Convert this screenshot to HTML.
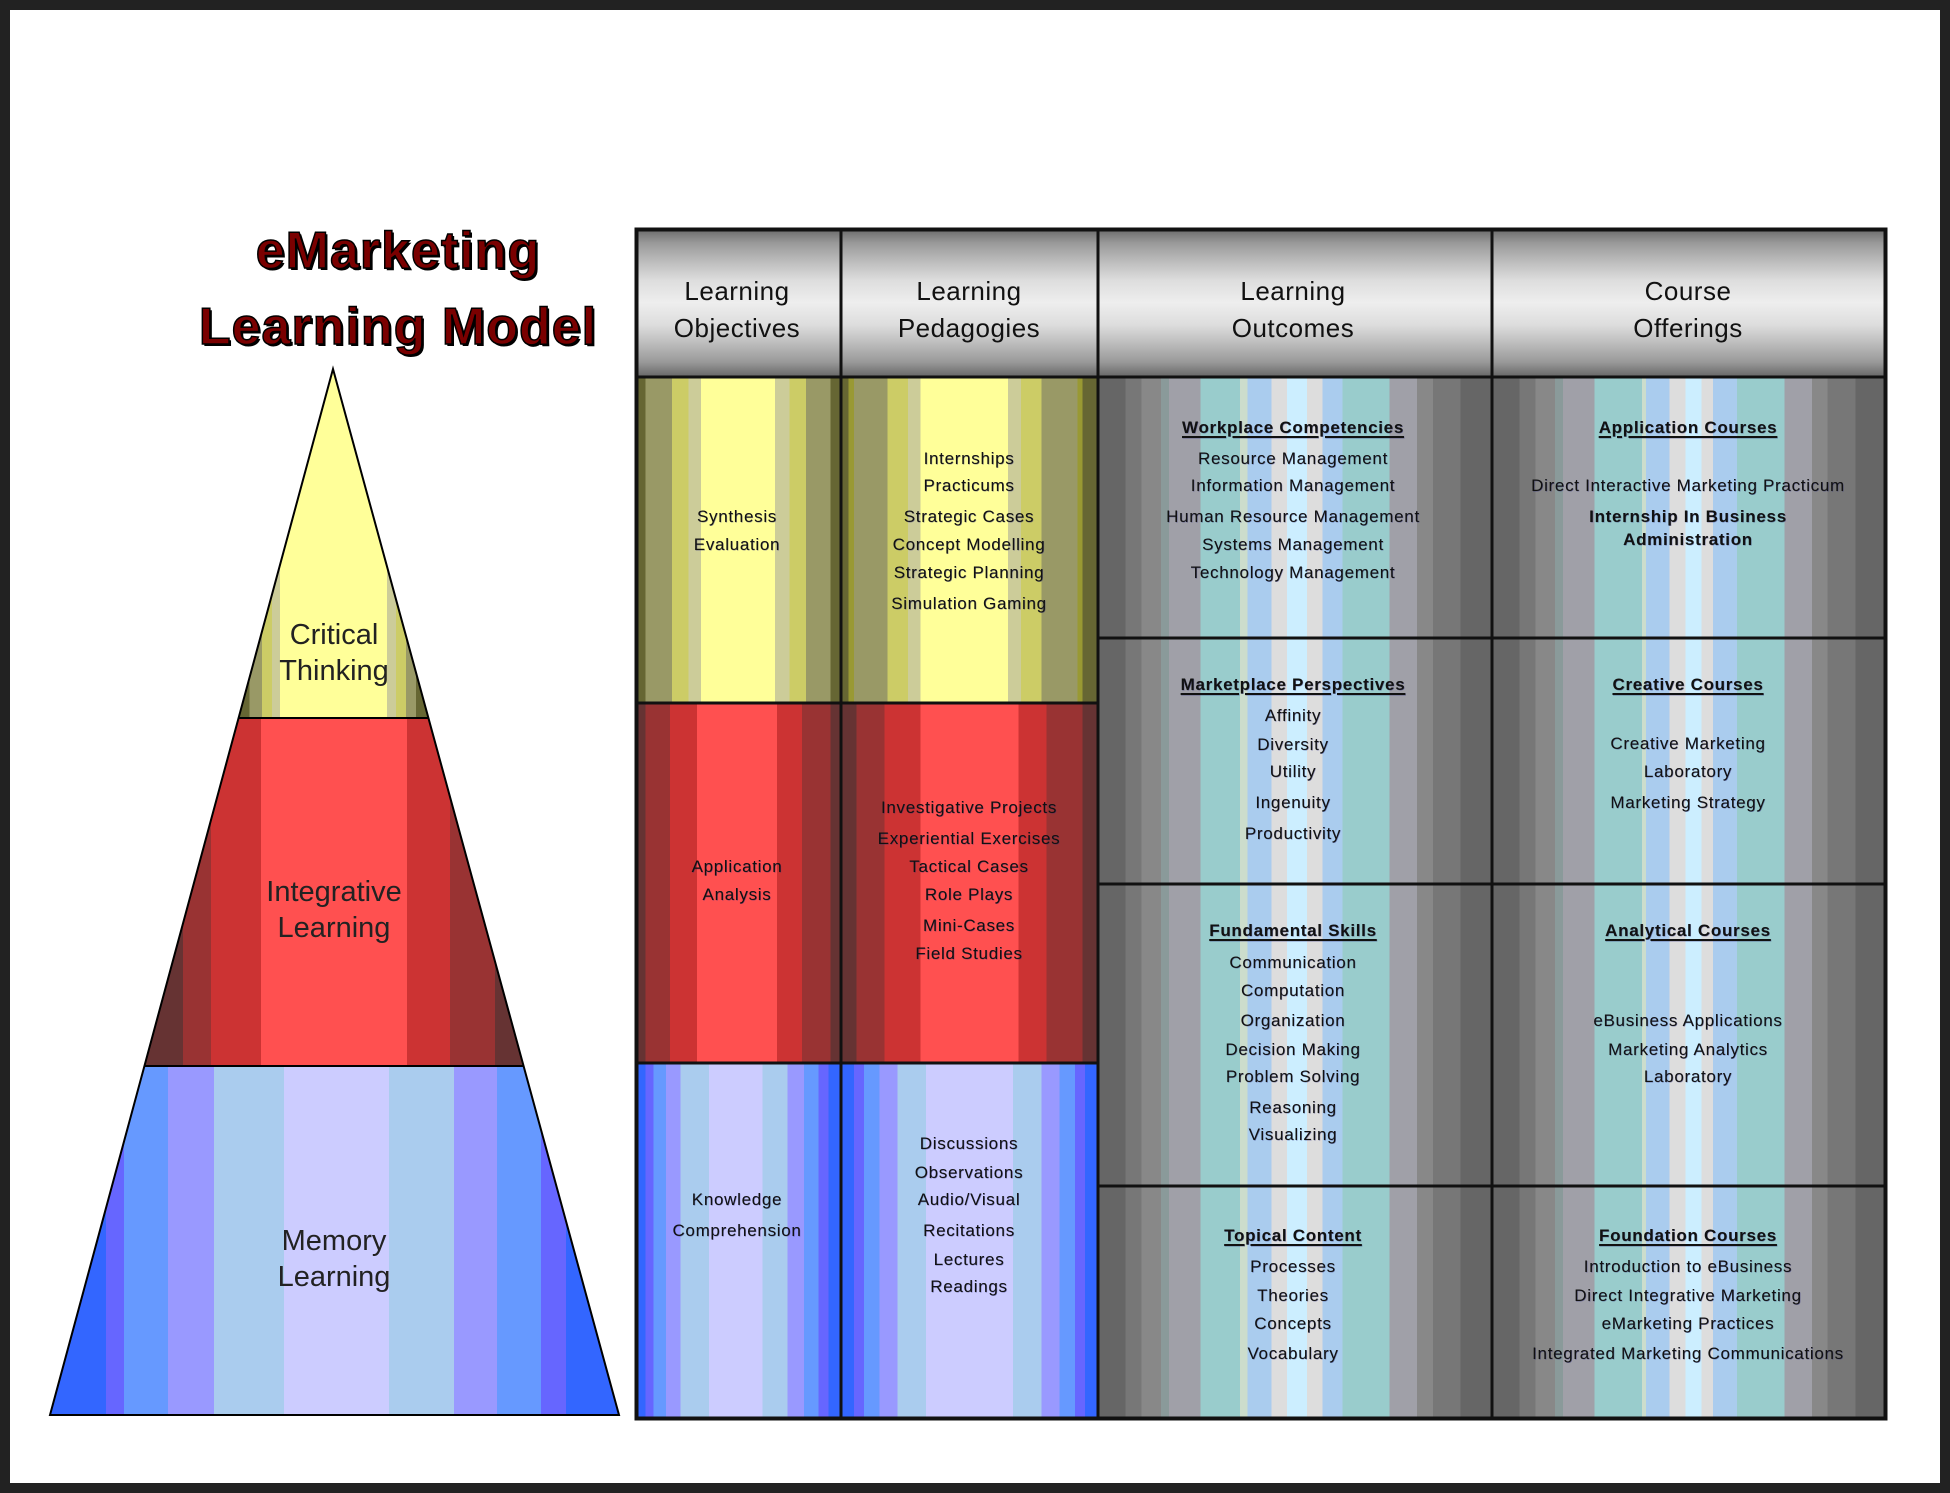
<!DOCTYPE html>
<html><head><meta charset="utf-8"><style>
html,body{margin:0;padding:0}
body{width:1950px;height:1493px;position:relative;background:#fff;overflow:hidden;font-family:"Liberation Sans",Arial,sans-serif}
.frame{position:absolute;left:0;top:0;width:1950px;height:1493px;box-sizing:border-box;border:10px solid #222}
.title{position:absolute;left:398px;transform:translate(-50%,-50%);font-weight:bold;font-size:52px;letter-spacing:1px;color:#7a0000;-webkit-text-stroke:1.5px #000;text-shadow:2px 2px 0 #000;white-space:nowrap}
.t{position:absolute;transform:translate(-50%,-50%);white-space:nowrap;font-size:17px;letter-spacing:0.7px;color:#111;text-shadow:0.5px 0.5px 0 rgba(40,40,120,.5)}
.h{font-weight:bold;text-decoration:underline;text-decoration-thickness:2px;text-underline-offset:3px}
.b{font-weight:bold}
.hd{position:absolute;transform:translate(-50%,-50%);white-space:nowrap;font-size:26px;color:#111;text-align:center;line-height:37px;letter-spacing:0.5px}
.pl{position:absolute;transform:translate(-50%,-50%);white-space:nowrap;font-size:29px;color:#222;text-align:center;line-height:36px}
.cell{position:absolute;box-sizing:border-box}
.band{position:absolute}
</style></head><body>
<div class="frame"></div>

<div class="title" style="top:251px">eMarketing</div>
<div class="title" style="top:327px">Learning Model</div>

<!-- pyramid -->
<div class="band" style="left:50px;top:369px;width:569px;height:349px;clip-path:polygon(283px 0,378.4px 349px,188.6px 349px);background:linear-gradient(90deg,#666633 0 35.1%,#999966 35.1% 37.3%,#cccc66 37.3% 39%,#cccc99 39% 40.4%,#ffff99 40.4% 59.2%,#cccc99 59.2% 60.8%,#cccc66 60.8% 62.6%,#999966 62.6% 64.3%,#666633 64.3%)"></div>
<div class="band" style="left:50px;top:718px;width:569px;height:348px;clip-path:polygon(188.6px 0,378.4px 0,473.6px 348px,94.5px 348px);background:linear-gradient(90deg,#663333 0 23.4%,#993333 23.4% 28.3%,#cc3333 28.3% 37.1%,#ff5050 37.1% 62.7%,#cc3333 62.7% 70.3%,#993333 70.3% 78.2%,#663333 78.2%)"></div>
<div class="band" style="left:50px;top:1066px;width:569px;height:349px;clip-path:polygon(94.5px 0,473.6px 0,569px 349px,0 349px);background:linear-gradient(90deg,#3366ff 0 9.8%,#6666ff 9.8% 13%,#6699ff 13% 20.7%,#9999ff 20.7% 28.8%,#aaccee 28.8% 41.1%,#ccccff 41.1% 59.6%,#aaccee 59.6% 71%,#9999ff 71% 78.6%,#6699ff 78.6% 86.3%,#6666ff 86.3% 90.7%,#3366ff 90.7%)"></div>
<svg style="position:absolute;left:0;top:0" width="1950" height="1493">
<polygon points="333,369 619,1415 50,1415" fill="none" stroke="#000" stroke-width="2"/>
<line x1="238.6" y1="718" x2="428.4" y2="718" stroke="#000" stroke-width="2"/>
<line x1="144.5" y1="1066" x2="523.6" y2="1066" stroke="#000" stroke-width="2"/>
</svg>
<div class="pl" style="left:334px;top:653px">Critical<br>Thinking</div>
<div class="pl" style="left:334px;top:910px">Integrative<br>Learning</div>
<div class="pl" style="left:334px;top:1259px">Memory<br>Learning</div>

<!-- table -->
<div class="cell" style="left:635px;top:228px;width:1252px;height:149px;background:linear-gradient(180deg,#666 0%,#999 10%,#bbb 22%,#ddd 35%,#eee 50%,#ddd 65%,#bbb 78%,#999 90%,#666 100%)"></div>

<!-- yellow -->
<div class="cell" style="left:635px;top:377px;width:206px;height:326px;background:linear-gradient(90deg,#666633 0 5%,#999966 5% 18%,#cccc66 18% 26%,#cccc99 26% 32%,#ffff99 32% 68%,#cccc99 68% 75%,#cccc66 75% 83%,#999966 83% 95%,#666633 95%)"></div>
<div class="cell" style="left:841px;top:377px;width:257px;height:326px;background:linear-gradient(90deg,#666633 0 3%,#999933 3% 5%,#999966 5% 18%,#cccc66 18% 26%,#cccc99 26% 31%,#ffff99 31% 65%,#cccc99 65% 70%,#cccc66 70% 78%,#999966 78% 92%,#999933 92% 94%,#666633 94%)"></div>
<!-- red -->
<div class="cell" style="left:635px;top:703px;width:206px;height:360px;background:linear-gradient(90deg,#663333 0 5%,#993333 5% 17%,#cc3333 17% 30%,#ff5050 30% 69%,#cc3333 69% 81%,#993333 81% 95%,#663333 95%)"></div>
<div class="cell" style="left:841px;top:703px;width:257px;height:360px;background:linear-gradient(90deg,#663333 0 6%,#993333 6% 17%,#cc3333 17% 31%,#ff5050 31% 69%,#cc3333 69% 80%,#993333 80% 94%,#663333 94%)"></div>
<!-- blue -->
<div class="cell" style="left:635px;top:1063px;width:206px;height:357px;background:linear-gradient(90deg,#3366ff 0 5%,#6666ff 5% 9%,#6699ff 9% 15%,#9999ff 15% 22%,#aaccee 22% 36%,#ccccff 36% 62%,#aaccee 62% 74%,#9999ff 74% 82%,#6699ff 82% 89%,#6666ff 89% 94%,#3366ff 94%)"></div>
<div class="cell" style="left:841px;top:1063px;width:257px;height:357px;background:linear-gradient(90deg,#3366ff 0 5%,#6666ff 5% 9%,#6699ff 9% 15%,#9999ff 15% 22%,#aaccee 22% 33%,#ccccff 33% 67%,#aaccee 67% 78%,#9999ff 78% 85%,#6699ff 85% 91%,#6666ff 91% 95%,#3366ff 95%)"></div>
<!-- gray -->
<div class="cell" style="left:1098px;top:377px;width:394px;height:1043px;background:linear-gradient(90deg,#666 0 7%,#777 7% 11%,#888 11% 16%,#8a9a9a 16% 18%,#a0a0a8 18% 26%,#99cccc 26% 36%,#ccddcc 36% 38%,#aaccee 38% 44%,#dddddd 44% 48%,#cceeff 48% 53%,#dddddd 53% 57%,#aaccee 57% 62%,#99cccc 62% 74%,#a0a0a8 74% 81%,#888 81% 85%,#777 85% 92%,#666 92%)"></div>
<div class="cell" style="left:1492px;top:377px;width:395px;height:1043px;background:linear-gradient(90deg,#666 0 7%,#777 7% 11%,#888 11% 16%,#8a9a9a 16% 18%,#a0a0a8 18% 26%,#99cccc 26% 38%,#ccddcc 38% 39%,#aaccee 39% 45%,#dddddd 45% 49%,#cceeff 49% 53%,#dddddd 53% 56%,#aaccee 56% 62%,#99cccc 62% 74%,#a0a0a8 74% 81%,#888 81% 85%,#777 85% 92%,#666 92%)"></div>

<svg style="position:absolute;left:0;top:0" width="1950" height="1493">
<g stroke="#111" stroke-width="3" fill="none">
<rect x="636.5" y="229.5" width="1249" height="1189" stroke-width="4"/>
<line x1="841" y1="228" x2="841" y2="1420"/>
<line x1="1098" y1="228" x2="1098" y2="1420"/>
<line x1="1492" y1="228" x2="1492" y2="1420"/>
<line x1="635" y1="377" x2="1887" y2="377"/>
<line x1="635" y1="703" x2="1098" y2="703"/>
<line x1="635" y1="1063" x2="1098" y2="1063"/>
<line x1="1098" y1="638" x2="1887" y2="638"/>
<line x1="1098" y1="884" x2="1887" y2="884"/>
<line x1="1098" y1="1186" x2="1887" y2="1186"/>
</g></svg>

<div class="hd" style="left:737px;top:310px">Learning<br>Objectives</div>
<div class="hd" style="left:969px;top:310px">Learning<br>Pedagogies</div>
<div class="hd" style="left:1293px;top:310px">Learning<br>Outcomes</div>
<div class="hd" style="left:1688px;top:310px">Course<br>Offerings</div>

<!-- objectives -->
<div class="t" style="left:737px;top:517px">Synthesis</div>
<div class="t" style="left:737px;top:545px">Evaluation</div>
<div class="t" style="left:737px;top:867px">Application</div>
<div class="t" style="left:737px;top:895px">Analysis</div>
<div class="t" style="left:737px;top:1200px">Knowledge</div>
<div class="t" style="left:737px;top:1231px">Comprehension</div>

<!-- pedagogies -->
<div class="t" style="left:969px;top:459px">Internships</div>
<div class="t" style="left:969px;top:486px">Practicums</div>
<div class="t" style="left:969px;top:517px">Strategic Cases</div>
<div class="t" style="left:969px;top:545px">Concept Modelling</div>
<div class="t" style="left:969px;top:573px">Strategic Planning</div>
<div class="t" style="left:969px;top:604px">Simulation Gaming</div>
<div class="t" style="left:969px;top:808px">Investigative Projects</div>
<div class="t" style="left:969px;top:839px">Experiential Exercises</div>
<div class="t" style="left:969px;top:867px">Tactical Cases</div>
<div class="t" style="left:969px;top:895px">Role Plays</div>
<div class="t" style="left:969px;top:926px">Mini-Cases</div>
<div class="t" style="left:969px;top:954px">Field Studies</div>
<div class="t" style="left:969px;top:1144px">Discussions</div>
<div class="t" style="left:969px;top:1173px">Observations</div>
<div class="t" style="left:969px;top:1200px">Audio/Visual</div>
<div class="t" style="left:969px;top:1231px">Recitations</div>
<div class="t" style="left:969px;top:1260px">Lectures</div>
<div class="t" style="left:969px;top:1287px">Readings</div>

<!-- outcomes -->
<div class="t h" style="left:1293px;top:428px">Workplace Competencies</div>
<div class="t" style="left:1293px;top:459px">Resource Management</div>
<div class="t" style="left:1293px;top:486px">Information Management</div>
<div class="t" style="left:1293px;top:517px">Human Resource Management</div>
<div class="t" style="left:1293px;top:545px">Systems Management</div>
<div class="t" style="left:1293px;top:573px">Technology Management</div>
<div class="t h" style="left:1293px;top:685px">Marketplace Perspectives</div>
<div class="t" style="left:1293px;top:716px">Affinity</div>
<div class="t" style="left:1293px;top:745px">Diversity</div>
<div class="t" style="left:1293px;top:772px">Utility</div>
<div class="t" style="left:1293px;top:803px">Ingenuity</div>
<div class="t" style="left:1293px;top:834px">Productivity</div>
<div class="t h" style="left:1293px;top:931px">Fundamental Skills</div>
<div class="t" style="left:1293px;top:963px">Communication</div>
<div class="t" style="left:1293px;top:991px">Computation</div>
<div class="t" style="left:1293px;top:1021px">Organization</div>
<div class="t" style="left:1293px;top:1050px">Decision Making</div>
<div class="t" style="left:1293px;top:1077px">Problem Solving</div>
<div class="t" style="left:1293px;top:1108px">Reasoning</div>
<div class="t" style="left:1293px;top:1135px">Visualizing</div>
<div class="t h" style="left:1293px;top:1236px">Topical Content</div>
<div class="t" style="left:1293px;top:1267px">Processes</div>
<div class="t" style="left:1293px;top:1296px">Theories</div>
<div class="t" style="left:1293px;top:1324px">Concepts</div>
<div class="t" style="left:1293px;top:1354px">Vocabulary</div>

<!-- offerings -->
<div class="t h" style="left:1688px;top:428px">Application Courses</div>
<div class="t" style="left:1688px;top:486px">Direct Interactive Marketing Practicum</div>
<div class="t b" style="left:1688px;top:517px">Internship In Business</div>
<div class="t b" style="left:1688px;top:540px">Administration</div>
<div class="t h" style="left:1688px;top:685px">Creative Courses</div>
<div class="t" style="left:1688px;top:744px">Creative Marketing</div>
<div class="t" style="left:1688px;top:772px">Laboratory</div>
<div class="t" style="left:1688px;top:803px">Marketing Strategy</div>
<div class="t h" style="left:1688px;top:931px">Analytical Courses</div>
<div class="t" style="left:1688px;top:1021px">eBusiness Applications</div>
<div class="t" style="left:1688px;top:1050px">Marketing Analytics</div>
<div class="t" style="left:1688px;top:1077px">Laboratory</div>
<div class="t h" style="left:1688px;top:1236px">Foundation Courses</div>
<div class="t" style="left:1688px;top:1267px">Introduction to eBusiness</div>
<div class="t" style="left:1688px;top:1296px">Direct Integrative Marketing</div>
<div class="t" style="left:1688px;top:1324px">eMarketing Practices</div>
<div class="t" style="left:1688px;top:1354px">Integrated Marketing Communications</div>
</body></html>
